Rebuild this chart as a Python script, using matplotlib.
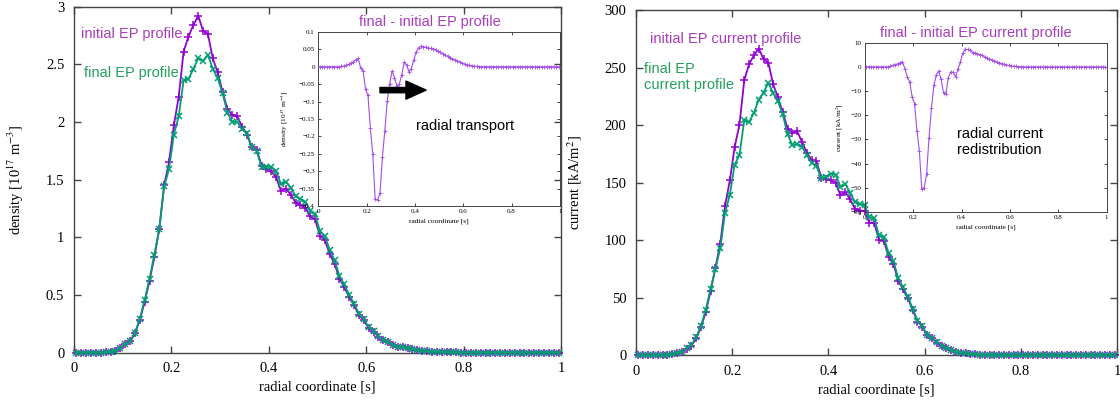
import matplotlib
matplotlib.use('Agg')
import matplotlib.pyplot as plt
import numpy as np
from matplotlib.ticker import FuncFormatter, MultipleLocator

plt.rcParams['font.family'] = 'serif'
plt.rcParams['font.serif'] = ['Liberation Serif', 'DejaVu Serif']
plt.rcParams['mathtext.fontset'] = 'stix'

# radial grid, cell centres
s = np.arange(100) * 0.01 + 0.005

dens_initial = [0, 0, 0, 0, 0, 0, 0.001, 0.005, 0.015, 0.04,
                0.072, 0.096, 0.165, 0.28, 0.44, 0.62, 0.83, 1.07, 1.45, 1.65,
                1.97, 2.22, 2.61, 2.74, 2.84, 2.92, 2.79, 2.76, 2.55, 2.43,
                2.26, 2.11, 2.06, 2.05, 1.96, 1.89, 1.78, 1.76, 1.62, 1.59,
                1.57, 1.52, 1.40, 1.42, 1.37, 1.30, 1.28, 1.255, 1.18, 1.155,
                1.01, 0.975, 0.854, 0.77, 0.64, 0.57, 0.48, 0.41, 0.325, 0.28,
                0.21, 0.18, 0.137, 0.108, 0.09, 0.065, 0.05, 0.045, 0.035, 0.027,
                0.02, 0.015, 0.011, 0.008, 0.006, 0.004, 0.003, 0.002, 0.001, 0,
                0, 0, 0, 0, 0, 0, 0, 0, 0, 0,
                0, 0, 0, 0, 0, 0, 0, 0, 0, 0]
dens_final = [0, 0, 0, 0, 0, 0, 0.001, 0.006, 0.016, 0.041,
              0.074, 0.10, 0.17, 0.29, 0.455, 0.64, 0.85, 1.07, 1.44, 1.59,
              1.89, 2.05, 2.36, 2.37, 2.46, 2.55, 2.53, 2.58, 2.46, 2.38,
              2.25, 2.08, 2.00, 2.00, 1.94, 1.90, 1.785, 1.75, 1.61, 1.61,
              1.61, 1.575, 1.46, 1.48, 1.43, 1.355, 1.33, 1.305, 1.23, 1.20,
              1.05, 1.01, 0.89, 0.80, 0.665, 0.59, 0.50, 0.425, 0.337, 0.29,
              0.218, 0.186, 0.141, 0.111, 0.092, 0.066, 0.051, 0.045, 0.035, 0.027,
              0.02, 0.015, 0.011, 0.008, 0.006, 0.004, 0.003, 0.002, 0.001, 0,
              0, 0, 0, 0, 0, 0, 0, 0, 0, 0,
              0, 0, 0, 0, 0, 0, 0, 0, 0, 0]
dens_diff = [0, 0, 0, 0, 0, 0, 0, 0, 0, 0.001,
             0.002, 0.004, 0.007, 0.011, 0.015, 0.02, 0.024, -0.004, -0.012, -0.065,
             -0.081, -0.175, -0.25, -0.38, -0.383, -0.363, -0.26, -0.184, -0.098, -0.05,
             -0.012, -0.031, -0.055, -0.05, -0.024, 0.013, 0.005, -0.014, -0.005, 0.02,
             0.043, 0.055, 0.059, 0.058, 0.056, 0.054, 0.053, 0.052, 0.049, 0.045,
             0.042, 0.038, 0.034, 0.03, 0.026, 0.023, 0.02, 0.017, 0.014, 0.011,
             0.008, 0.006, 0.004, 0.003, 0.002, 0.001, 0, 0, 0, 0,
             0, 0, 0, 0, 0, 0, 0, 0, 0, 0,
             0, 0, 0, 0, 0, 0, 0, 0, 0, 0,
             0, 0, 0, 0, 0, 0, 0, 0, 0, 0]

curr_initial = [0, 0, 0, 0, 0, 0, 0.3, 0.9, 1.8, 3.2,
                6.0, 8.2, 15, 24.5, 38, 56, 76, 97, 130, 152,
                181, 200.5, 239, 253, 260.5, 266.5, 257.5, 254, 235.5, 224,
                211, 197, 193.5, 194.5, 185.5, 176, 169.7, 168.5, 154.5, 153,
                152, 149.7, 139, 142, 135.5, 127.5, 125.8, 125.5, 115.3, 115.3,
                100.5, 99.7, 85.8, 79.5, 65, 57.5, 49.6, 39.5, 29.5, 25,
                17.8, 15, 11.1, 8.2, 6.2, 4.8, 3.3, 2.4, 1.8, 1.3,
                0.9, 0.6, 0.4, 0.3, 0.2, 0.1, 0, 0, 0, 0,
                0, 0, 0, 0, 0, 0, 0, 0, 0, 0,
                0, 0, 0, 0, 0, 0, 0, 0, 0, 0]
curr_final = [0, 0, 0, 0, 0, 0, 0.3, 1.0, 1.9, 3.3,
              6.3, 8.8, 15.9, 25.8, 39.7, 58.1, 75.3, 92.9, 123.8, 139.6,
              165.8, 174.1, 204.3, 202.5, 210.6, 222.1, 228.3, 236.8, 227.9, 220.6,
              209.3, 191.9, 182.8, 183.5, 181.1, 173.9, 167.4, 164.4, 153.8, 155.1,
              157.8, 156.9, 146.2, 148.9, 141.4, 133.3, 131.3, 130.6, 120.1, 119.4,
              104.2, 103, 88.7, 82, 67.1, 59.2, 51, 40.6, 30.3, 25.6,
              18.2, 15.3, 11.3, 8.3, 6.25, 4.8, 3.3, 2.4, 1.8, 1.3,
              0.9, 0.6, 0.4, 0.3, 0.2, 0.1, 0, 0, 0, 0,
              0, 0, 0, 0, 0, 0, 0, 0, 0, 0,
              0, 0, 0, 0, 0, 0, 0, 0, 0, 0]
curr_diff = [0, 0, 0, 0, 0, 0, 0, 0, 0, 0,
             0.3, 0.6, 0.9, 1.3, 1.7, 2.1, -0.7, -4.1, -6.2, -12.4,
             -15.2, -26.4, -34.7, -50.5, -49.9, -44.4, -29.2, -17.2, -7.6, -3.4,
             -1.7, -5.1, -10.7, -11, -4.4, -2.1, -2.3, -4.1, -0.7, 2.1,
             5.8, 7.2, 7.2, 6.9, 5.9, 5.8, 5.5, 5.1, 4.8, 4.1,
             3.7, 3.3, 2.9, 2.5, 2.1, 1.7, 1.4, 1.1, 0.8, 0.6,
             0.4, 0.3, 0.2, 0.1, 0.05, 0, 0, 0, 0, 0,
             0, 0, 0, 0, 0, 0, 0, 0, 0, 0,
             0, 0, 0, 0, 0, 0, 0, 0, 0, 0,
             0, 0, 0, 0, 0, 0, 0, 0, 0, 0]

PURPLE = '#9400d3'
GREEN = '#009e73'
TXT_PURPLE = '#a83cbc'
TXT_GREEN = '#23a05c'
INSET_LINE = '#a64ce8'
SANS = 'Liberation Sans'

fmt = FuncFormatter(lambda v, p: ('%g' % round(v, 4)).replace('-', '\u2212'))


def style_axes(ax, fs, length, lw, pad):
    for sp in ax.spines.values():
        sp.set_color('#444444')
        sp.set_linewidth(lw)
    ax.tick_params(direction='in', top=True, right=True, length=length,
                   width=lw, colors='#444444', labelcolor='black',
                   labelsize=fs, pad=pad)
    ax.xaxis.set_major_formatter(fmt)
    ax.yaxis.set_major_formatter(fmt)


def main_panel(rect, y_init, y_fin, ymax, ystep, ylabel, ylabel_x):
    ax = fig.add_axes(rect)
    ax.plot(s, y_init, color=PURPLE, lw=1.3, marker='+', ms=6, mew=1.1,
            clip_on=False, zorder=3)
    ax.plot(s, y_fin, color=GREEN, lw=1.3, marker='x', ms=4.5, mew=1.1,
            clip_on=False, zorder=4)
    ax.set_xlim(0, 1)
    ax.set_ylim(0, ymax)
    ax.xaxis.set_major_locator(MultipleLocator(0.2))
    ax.yaxis.set_major_locator(MultipleLocator(ystep))
    style_axes(ax, 10.5, 5, 1.0, 7)
    ax.set_xlabel('radial coordinate [s]', fontsize=10.5, labelpad=4)
    ax.set_ylabel(ylabel, fontsize=10.5)
    ax.yaxis.set_label_coords(ylabel_x, 0.5)
    return ax


def inset_panel(rect, diff, ylim, ystep, ylabel, title, ylabel_x):
    ax = fig.add_axes(rect, facecolor='none')
    ax.plot(s, diff, color=INSET_LINE, lw=0.8, marker='+', ms=2.2, mew=0.6,
            zorder=3)
    ax.set_xlim(0, 1)
    ax.set_ylim(*ylim)
    ax.xaxis.set_major_locator(MultipleLocator(0.2))
    ax.yaxis.set_major_locator(MultipleLocator(ystep))
    style_axes(ax, 5, 2.5, 0.7, 2.5)
    ax.set_xlabel('radial coordinate [s]', fontsize=5.3, labelpad=3)
    ax.set_ylabel(ylabel, fontsize=5.3)
    ax.yaxis.set_label_coords(ylabel_x, 0.5)
    ax.text(0.46, 1.059, title, transform=ax.transAxes, ha='center',
            va='center', fontsize=10.5, color=TXT_PURPLE, family=SANS)
    return ax


fig = plt.figure(figsize=(11.2, 4.08), dpi=100)

# left: density
ax1 = main_panel([0.0661, 0.136, 0.4348, 0.8478], dens_initial, dens_final,
                 3, 0.5, 'density [10$^{17}$ m$^{-3}$]', -0.0986)
ax1.text(0.014, 2.76, 'initial EP profile', color=TXT_PURPLE, fontsize=10.5,
         family=SANS, va='center')
ax1.text(0.02, 2.42, 'final EP profile', color=TXT_GREEN, fontsize=10.5,
         family=SANS, va='center')

in1 = inset_panel([0.2843, 0.4951, 0.2156, 0.4265], dens_diff, (-0.4, 0.1),
                  0.05, 'density [10$^{17}$ m$^{-3}$]',
                  'final - initial EP profile', -0.118)
in1.annotate('', xy=(0.446, -0.067), xytext=(0.255, -0.067),
             arrowprops=dict(arrowstyle='simple,tail_width=0.38,head_width=1.3,head_length=1.45',
                             mutation_scale=10, color='black',
                             shrinkA=0, shrinkB=0))
in1.text(0.404, -0.17, 'radial transport', fontsize=10.5, family=SANS,
         va='center')

# right: current
ax2 = main_panel([0.5679, 0.1287, 0.4295, 0.847], curr_initial, curr_final,
                 300, 50, 'current [kA/m$^2$]', -0.108)
ax2.text(0.028, 275, 'initial EP current profile', color=TXT_PURPLE,
         fontsize=10.5, family=SANS, va='center')
ax2.text(0.017, 241.5, 'final EP\ncurrent profile', color=TXT_GREEN,
         fontsize=10.5, family=SANS, va='center', linespacing=1.2)

in2 = inset_panel([0.7723, 0.4804, 0.2158, 0.4149], curr_diff, (-60, 10),
                  10, 'current [kA/m$^2$]',
                  'final - initial EP current profile', -0.083)
in2.text(0.379, -31, 'radial current\nredistribution', fontsize=10.5,
         family=SANS, va='center', linespacing=1.2)

fig.savefig('out.png', dpi=100)
